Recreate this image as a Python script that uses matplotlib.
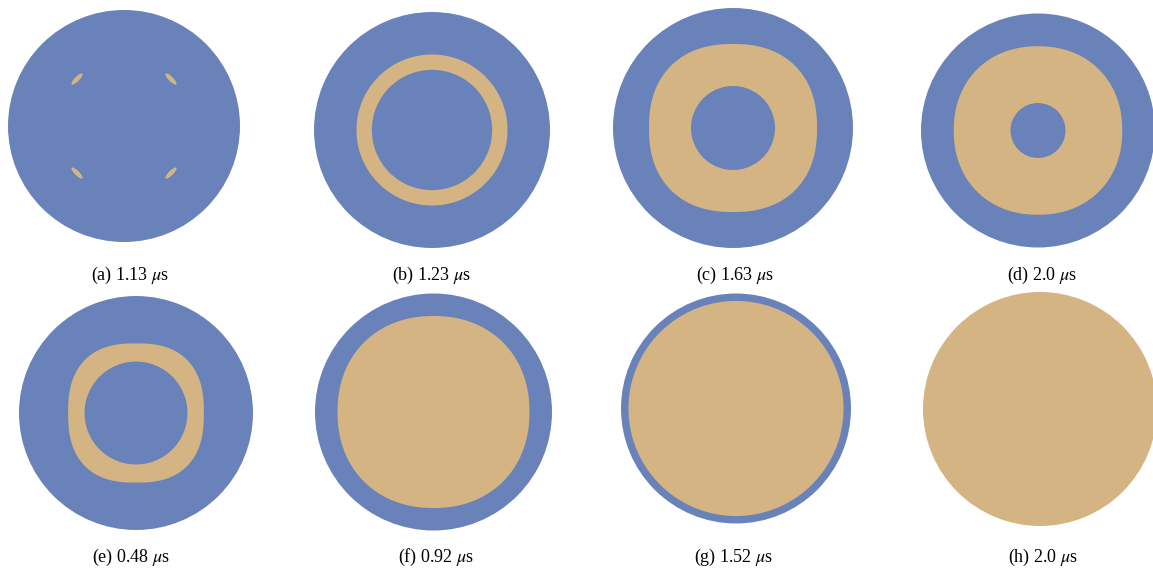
import matplotlib
matplotlib.use('Agg')

import numpy as np
import matplotlib.pyplot as plt
from matplotlib.patches import Circle, Ellipse

# panel captions
letters = ['a', 'b', 'c', 'd', 'e', 'f', 'g', 'h']
times_text = ['1.13', '1.23', '1.63', '2.0', '0.48', '0.92', '1.52', '2.0']

# transformed (tan) region, relative to disk radius
tan_halfw = [0.0, 0.64, 0.70, 0.72, 0.58, 0.81, 0.935, 1.0]
tan_halfh = [0.0, 0.64, 0.70, 0.72, 0.595, 0.81, 0.935, 1.0]
tan_power = [2.0, 2.0, 2.3, 2.15, 2.5, 2.15, 2.0, 2.0]
hole_r = [0.0, 0.51, 0.35, 0.235, 0.44, 0.0, 0.0, 0.0]

# panel (a): small nuclei on a ring
nuclei_r = 0.573
nuclei_angles = [45, 135, 225, 315]

# layout in pixels
W, H = 1153, 568
disk_cx = [124, 432, 733, 1038, 136, 433.5, 736, 1040]
disk_cy = [126, 130, 128, 130.5, 413, 412, 408.5, 409]
disk_rad = [116, 118, 120, 117, 117, 118.5, 115, 117]
cap_x = [130, 432, 735, 1042, 131, 436, 734, 1043]
cap_y = [280, 280, 280, 280, 562, 562, 562, 562]

BLUE = '#6983ba'
TAN = '#d4b483'

plt.rcParams['font.family'] = ['Liberation Serif', 'DejaVu Serif']
plt.rcParams['mathtext.fontset'] = 'stix'

fig = plt.figure(figsize=(W / 100, H / 100), dpi=100)


def superellipse(a, b, n, num=400):
    t = np.linspace(0, 2 * np.pi, num)
    c, s = np.cos(t), np.sin(t)
    x = a * np.sign(c) * np.abs(c) ** (2 / n)
    y = b * np.sign(s) * np.abs(s) ** (2 / n)
    return x, y


pad = 1.02
for i in range(8):
    r = disk_rad[i] * pad
    ax = fig.add_axes([(disk_cx[i] - r) / W, 1 - (disk_cy[i] + r) / H, 2 * r / W, 2 * r / H])
    ax.set_xlim(-pad, pad)
    ax.set_ylim(-pad, pad)
    ax.axis('off')

    if tan_halfw[i] >= 1.0:
        ax.add_patch(Circle((0, 0), 1, color=TAN, lw=0))
    else:
        ax.add_patch(Circle((0, 0), 1, color=BLUE, lw=0))
        if tan_halfw[i] > 0:
            x, y = superellipse(tan_halfw[i], tan_halfh[i], tan_power[i])
            ax.fill(x, y, color=TAN, lw=0)
        if hole_r[i] > 0:
            ax.add_patch(Circle((0, 0), hole_r[i], color=BLUE, lw=0))

    if letters[i] == 'a':
        for ang in nuclei_angles:
            th = np.deg2rad(ang)
            ax.add_patch(Ellipse((nuclei_r * np.cos(th), nuclei_r * np.sin(th)),
                                 0.13, 0.04, angle=ang + 90, color=TAN, lw=0))

    fig.text(cap_x[i] / W, 1 - cap_y[i] / H,
             '(%s) %s $\\mu$s' % (letters[i], times_text[i]),
             ha='center', va='baseline', fontsize=13)

fig.savefig('out.png', dpi=100)
plt.close(fig)
